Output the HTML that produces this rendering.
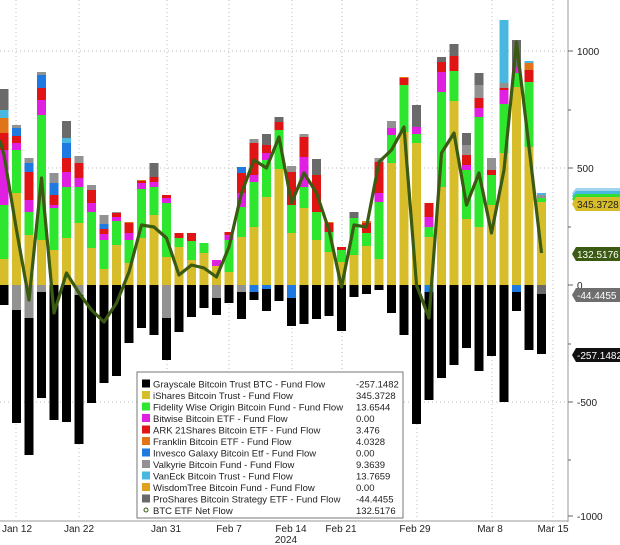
<!DOCTYPE html>
<html><head><meta charset="utf-8"><style>
html,body{margin:0;padding:0;background:#fff;}
svg{display:block;font-family:"Liberation Sans",sans-serif;}
</style></head><body>
<svg id="s" width="620" height="545" viewBox="0 0 620 545" xmlns="http://www.w3.org/2000/svg">
<rect width="620" height="545" fill="#fff"/>
<g id="grid" stroke="#bbb" stroke-width="1" stroke-dasharray="1,3">
<line x1="0" y1="51" x2="568" y2="51"/>
<line x1="0" y1="168" x2="568" y2="168"/>
<line x1="0" y1="402" x2="568" y2="402"/>
<line x1="16" y1="0" x2="16" y2="520"/>
<line x1="79" y1="0" x2="79" y2="520"/>
<line x1="167" y1="0" x2="167" y2="520"/>
<line x1="229" y1="0" x2="229" y2="520"/>
<line x1="292" y1="0" x2="292" y2="520"/>
<line x1="342" y1="0" x2="342" y2="520"/>
<line x1="417" y1="0" x2="417" y2="520"/>
<line x1="492" y1="0" x2="492" y2="520"/>
<line x1="553" y1="0" x2="553" y2="520"/>
</g>
<g id="bars"></g>
<polyline id="net" fill="none" stroke="#3b5a12" stroke-width="3.2" stroke-linejoin="round"/>
<line x1="568" y1="0" x2="568" y2="522" stroke="#999"/>
<line x1="0" y1="521" x2="568" y2="521" stroke="#999"/>
<g stroke="#666">
<line x1="568" y1="51" x2="573" y2="51"/><line x1="568" y1="168" x2="573" y2="168"/>
<line x1="568" y1="285" x2="573" y2="285"/><line x1="568" y1="402" x2="573" y2="402"/>
<line x1="568" y1="516" x2="573" y2="516"/>
<line x1="568" y1="110" x2="571" y2="110"/><line x1="568" y1="227" x2="571" y2="227"/>
<line x1="568" y1="344" x2="571" y2="344"/><line x1="568" y1="460" x2="571" y2="460"/>
</g>
<g font-size="10" fill="#222">
<text x="577" y="55">1000</text><text x="577" y="172">500</text>
<text x="577" y="289">0</text><text x="577" y="406">-500</text><text x="577" y="520">-1000</text>
</g>
<g>
<polygon points="572,193 576,188 620,188 620,198 576,198" fill="#9fd4ee"/>
<polygon points="572,196 576,191 620,191 620,201 576,201" fill="#48b8e0"/>
<polygon points="572,199 576,194 620,194 620,204 576,204" fill="#30e030"/>
<polygon points="572,204 576,197 620,197 620,211 576,211" fill="#d8bd2a"/>
<text x="577" y="208" font-size="10" fill="#222">345.3728</text>
<polygon points="572,254 576,247 620,247 620,261 576,261" fill="#3b5a12"/>
<text x="577" y="258" font-size="10" fill="#fff">132.5176</text>
<polygon points="572,295 576,288 620,288 620,302 576,302" fill="#6e6e6e"/>
<text x="577" y="299" font-size="10" fill="#fff">-44.4455</text>
<polygon points="572,355 576,348 620,348 620,362 576,362" fill="#111"/>
<text x="577" y="359" font-size="10" fill="#fff">-257.1482</text>
</g>
<g font-size="10" fill="#222" text-anchor="middle">
<text x="17" y="532">Jan 12</text><text x="79" y="532">Jan 22</text><text x="166" y="532">Jan 31</text>
<text x="229" y="532">Feb 7</text><text x="291" y="532">Feb 14</text><text x="341" y="532">Feb 21</text>
<text x="415" y="532">Feb 29</text><text x="490" y="532">Mar 8</text><text x="553" y="532">Mar 15</text>
<text x="286" y="543">2024</text>
</g>
<g id="legend">
<rect x="137" y="372" width="266" height="146" fill="#fff" stroke="#777"/>
</g>
</svg>
<script>
var C={Y:"#d8bd2a",G:"#2ee62e",M:"#e020e0",R:"#e01414",O:"#e07418",B:"#1e7ae0",V:"#929292",C:"#48b8e0",P:"#6a6a6a",K:"#000"};
var pos=["Y259 G205 M150 R133 O118 C110 P89","Y193 G150 M143 R136 B128 V125","Y235 G212 M200 R172 B163 V158","Y240 G115 M100 R88 B75 V72","Y250 G208 M205 R195 B183 V173","Y238 G187 M172 R158 B143 C138 P121","Y223 G187 M178 R163 V156","Y248 G212 M203 R190 V185","Y269 G240 M234 R229 B224 V215","Y245 G221 M217 R213 V212","Y263 G240 M233 R223 O222","Y238 G189 M183 R181 O180","Y215 G187 M182 R177 P163","Y257 G203 M198 R195","Y247 G238 R233","Y260 G241 R233","Y253 G243","Y266 M260","Y272 G240 M235 R232","Y237 G207 M193 R173 B167","Y227 G182 M175 R143 V139","Y197 G160 M153 R145 P134","Y169 G130 R122 P117","Y233 G205 R172 V166","Y208 G187 M157 R137 V134","Y240 G212 R175 P159","Y252 G232 R223 O222","Y262 G250 R247","Y255 G218 P212","Y246 G233 R223 O221","Y259 G202 M193 R162 V158","Y163 G135 M128 V121","Y132 G85 R78 O77","Y143 G134 M127 P105","Y237 G227 M217 R203","Y187 G92 M72 R62 P57","Y101 G71 R56 P44","Y219 G170 M165 R155 V145 P133","Y227 G117 M108 R98 V85 P73","Y205 G175 R170 V158","Y153 G104 M90 R88 V83 C20","Y87 G73 M67 P40","Y147 G82 R70 O63 C61","Y202 G198 V195 C193"];
var neg=[[305],[423,"V",310],[455,"V",318],[398,"V",292],[420],[422],[444,"V",295],[403],[383],[376],[343],[328],[335],[360,"V",318],[332],[317],[308],[315,"V",298],[303],[319,"V",292],[300,"B",292],[311,"B",289],[301],[326,"B",298],[324],[319],[316],[331],[297],[294],[290],[313],[335],[424],[400,"B",292],[378],[365],[348],[371],[356],[402],[311,"B",292],[350],[354,"P",294]];
var net=[155,230,300,178,313,273,293,310,322,303,272,225,227,238,275,265,268,277,247,193,160,168,137,203,173,193,230,287,225,227,162,150,127,285,318,153,133,205,173,233,170,42,147,253];
var ns="http://www.w3.org/2000/svg",g=document.getElementById("bars");
function r(x,y1,y2,c){if(y2<=y1)return;var e=document.createElementNS(ns,"rect");e.setAttribute("x",x);e.setAttribute("y",y1);e.setAttribute("width",9);e.setAttribute("height",y2-y1);e.setAttribute("fill",c);g.appendChild(e);}
var pts=[];
for(var i=0;i<44;i++){var cx=4+12.5*i,x=cx-4.5;var prev=285;
pos[i].split(" ").forEach(function(t){var k=t[0],y=+t.slice(1);r(x,y,prev,C[k]);prev=y;});
var n=neg[i];r(x,285,n[0],"#000");if(n.length>1)r(x,285,n[2],C[n[1]]);
pts.push(cx+","+net[i]);}
document.getElementById("net").setAttribute("points","0,140 "+pts.join(" "));
var L=[["K","Grayscale Bitcoin Trust BTC - Fund Flow","-257.1482"],["Y","iShares Bitcoin Trust - Fund Flow","345.3728"],["G","Fidelity Wise Origin Bitcoin Fund - Fund Flow","13.6544"],["M","Bitwise Bitcoin ETF - Fund Flow","0.00"],["R","ARK 21Shares Bitcoin ETF - Fund Flow","3.476"],["O","Franklin Bitcoin ETF - Fund Flow","4.0328"],["B","Invesco Galaxy Bitcoin Etf - Fund Flow","0.00"],["V","Valkyrie Bitcoin Fund - Fund Flow","9.3639"],["C","VanEck Bitcoin Trust - Fund Flow","13.7659"],["W","WisdomTree Bitcoin Fund - Fund Flow","0.00"],["P","ProShares Bitcoin Strategy ETF - Fund Flow","-44.4455"],["N","BTC ETF Net Flow","132.5176"]];
var lg=document.getElementById("legend");C.W="#e0a020";
L.forEach(function(l,j){var y=384+11.5*j;
if(l[0]=="N"){var c=document.createElementNS(ns,"circle");c.setAttribute("cx",146);c.setAttribute("cy",y-0.5);c.setAttribute("r",2);c.setAttribute("fill","none");c.setAttribute("stroke","#3b5a12");lg.appendChild(c);}
else{var e=document.createElementNS(ns,"rect");e.setAttribute("x",142);e.setAttribute("y",y-4.5);e.setAttribute("width",8);e.setAttribute("height",8);e.setAttribute("fill",C[l[0]]);lg.appendChild(e);}
[[153,l[1]],[356,l[2]]].forEach(function(p){var t=document.createElementNS(ns,"text");t.setAttribute("x",p[0]);t.setAttribute("y",y+3.5);t.setAttribute("font-size","9.5");t.setAttribute("fill","#222");t.textContent=p[1];lg.appendChild(t);});});
</script>
</body></html>
